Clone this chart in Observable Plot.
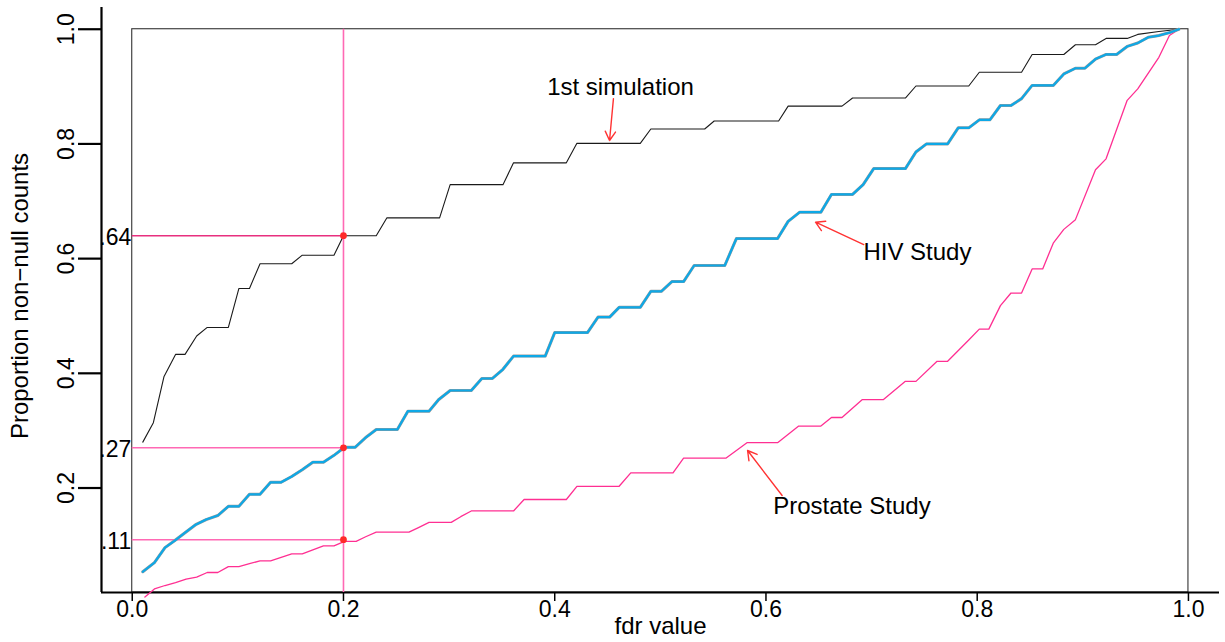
<!DOCTYPE html>
<html><head><meta charset="utf-8">
<script src="https://cdn.jsdelivr.net/npm/d3@7"></script>
<script src="https://cdn.jsdelivr.net/npm/@observablehq/plot@0.6"></script>
<style>body{margin:0;background:#fff} svg{display:block}</style>
</head><body><div id="chart"></div>
<script>
// 1st simulation (black)
const simX = [0.010,0.020,0.030,0.041,0.050,0.061,0.071,0.091,0.101,0.111,0.121,0.151,0.161,0.191,0.200,0.231,0.241,0.291,0.301,0.351,0.361,0.411,0.421,0.481,0.491,0.542,0.551,0.612,0.621,0.672,0.682,0.732,0.742,0.792,0.802,0.842,0.852,0.882,0.893,0.912,0.922,0.942,0.952,0.972,0.991];
const simY = [0.280,0.314,0.394,0.433,0.433,0.465,0.480,0.480,0.548,0.548,0.591,0.591,0.606,0.606,0.640,0.640,0.671,0.671,0.729,0.729,0.767,0.767,0.801,0.801,0.826,0.826,0.840,0.840,0.866,0.866,0.880,0.880,0.901,0.901,0.925,0.925,0.956,0.956,0.973,0.973,0.984,0.984,0.991,0.996,1.000];
// HIV Study (blue)
const hivX = [0.010,0.021,0.031,0.040,0.050,0.060,0.070,0.081,0.091,0.101,0.111,0.121,0.131,0.141,0.151,0.161,0.171,0.181,0.191,0.201,0.211,0.221,0.231,0.251,0.261,0.281,0.290,0.301,0.321,0.331,0.341,0.351,0.361,0.391,0.400,0.431,0.441,0.452,0.461,0.481,0.491,0.501,0.511,0.522,0.532,0.561,0.572,0.611,0.621,0.632,0.652,0.662,0.682,0.692,0.702,0.732,0.742,0.752,0.772,0.782,0.792,0.802,0.812,0.822,0.832,0.842,0.852,0.872,0.882,0.893,0.902,0.912,0.922,0.932,0.942,0.952,0.962,0.972,0.982,0.991];
const hivY = [0.054,0.070,0.096,0.108,0.122,0.136,0.145,0.152,0.168,0.168,0.189,0.189,0.210,0.210,0.220,0.232,0.245,0.245,0.257,0.271,0.271,0.288,0.302,0.302,0.334,0.334,0.354,0.370,0.370,0.391,0.391,0.407,0.430,0.430,0.471,0.471,0.498,0.498,0.515,0.515,0.543,0.543,0.560,0.560,0.588,0.588,0.635,0.635,0.665,0.681,0.681,0.712,0.712,0.729,0.757,0.757,0.786,0.800,0.800,0.828,0.828,0.842,0.842,0.867,0.867,0.879,0.902,0.902,0.922,0.932,0.932,0.948,0.956,0.956,0.970,0.976,0.986,0.989,0.994,1.000];
// Prostate Study (pink)
const proX = [0.012,0.021,0.031,0.041,0.051,0.061,0.071,0.081,0.091,0.101,0.111,0.121,0.131,0.141,0.151,0.161,0.171,0.181,0.191,0.201,0.212,0.221,0.231,0.262,0.271,0.281,0.302,0.311,0.321,0.361,0.371,0.411,0.421,0.461,0.472,0.512,0.522,0.562,0.582,0.611,0.631,0.652,0.662,0.672,0.691,0.711,0.732,0.742,0.762,0.772,0.792,0.802,0.811,0.822,0.832,0.842,0.852,0.862,0.872,0.882,0.893,0.912,0.922,0.942,0.952,0.972,0.982,0.991];
const proY = [0.010,0.024,0.030,0.035,0.041,0.0445,0.0527,0.0527,0.063,0.063,0.068,0.073,0.073,0.079,0.085,0.085,0.092,0.099,0.099,0.107,0.107,0.115,0.123,0.123,0.131,0.140,0.140,0.150,0.160,0.160,0.180,0.180,0.203,0.203,0.2265,0.2265,0.252,0.252,0.279,0.279,0.308,0.308,0.323,0.323,0.354,0.354,0.386,0.386,0.421,0.421,0.458,0.477,0.477,0.518,0.540,0.540,0.582,0.582,0.627,0.651,0.668,0.755,0.774,0.876,0.896,0.951,0.989,1.000];

const xTicks = [0, 0.2, 0.4, 0.6, 0.8, 1.0];
const yTicks = [0.2, 0.4, 0.6, 0.8, 1.0];
const cutoff = 0.2;
const refLevels = [0.64, 0.27, 0.11];
const refLabels = [".64", ".27", ".11"];
const annLabels = ["1st simulation", "HIV Study", "Prostate Study"];
const annTextX = [0.4623, 0.7434, 0.6814];
const annTextY = [0.898, 0.611, 0.1677];
const annFromX = [0.4556, 0.6926, 0.6153];
const annFromY = [0.879, 0.6245, 0.1869];
const annToX = [0.4519, 0.6469, 0.5826];
const annToY = [0.806, 0.6635, 0.2654];

const xDomain = [-0.0291, 1.0294];
const yDomain = [0.0178, 1.0379];

const toPts = (xs, ys) => xs.map((x, i) => ({x, y: ys[i]}));
const sim = toPts(simX, simY), hiv = toPts(hivX, hivY), pro = toPts(proX, proY);
const ann = annLabels.map((label, i) => ({label, tx: annTextX[i], ty: annTextY[i], x1: annFromX[i], y1: annFromY[i], x2: annToX[i], y2: annToY[i]}));

const chart = Plot.plot({
  width: 1225, height: 642,
  marginLeft: 101, marginRight: 6, marginTop: 7, marginBottom: 50,
  style: {fontFamily: "'Liberation Sans', Arial, sans-serif", fontSize: "23px", color: "#000", background: "#fff"},
  x: {domain: xDomain, axis: null},
  y: {domain: yDomain, axis: null},
  marks: [
    // plot box around data range
    Plot.rect([0], {x1: 0, x2: 1, y1: yDomain[0], y2: 1, fill: "none", stroke: "#333", strokeWidth: 1.1}),
    // axis lines
    Plot.ruleX([xDomain[0]], {y1: yDomain[0], y2: yDomain[1], stroke: "#000", strokeWidth: 2.2}),
    Plot.ruleY([yDomain[0]], {x1: xDomain[0], x2: xDomain[1], stroke: "#000", strokeWidth: 2.2}),
    Plot.axisY(yTicks, {anchor: "left", tickSize: 23, strokeWidth: 2.2, tickFormat: () => "", label: null}),
    Plot.axisX(xTicks, {anchor: "bottom", tickSize: 9, tickPadding: -1, strokeWidth: 1.5, tickFormat: d => d.toFixed(1), fontSize: 23, label: null}),
    Plot.text(yTicks, {y: d => d, text: d => d.toFixed(1), frameAnchor: "left", textAnchor: "middle", lineAnchor: "middle", dx: -35, rotate: -90, fontSize: 23}),
    Plot.text(["Proportion non\u2212null counts"], {frameAnchor: "left", textAnchor: "middle", lineAnchor: "middle", dx: -81, dy: -4, rotate: -90, fontSize: 24}),
    Plot.text(["fdr value"], {frameAnchor: "bottom", dy: 41, fontSize: 24}),
    // reference lines
    Plot.ruleX([cutoff], {y1: yDomain[0], y2: 1, stroke: "#ff69b4", strokeWidth: 1.6}),
    Plot.ruleY(refLevels, {x1: 0, x2: cutoff, stroke: (d, i) => i === 0 ? "#e8307f" : "#ff69b4", strokeWidth: 1.5}),
    Plot.text(refLevels, {x: 0, y: d => d, text: (d, i) => refLabels[i], textAnchor: "end", dx: -1, dy: 2, fontSize: 23}),
    // curves
    Plot.line(sim, {x: "x", y: "y", stroke: "#1a1a1a", strokeWidth: 1.1}),
    Plot.line(pro, {x: "x", y: "y", stroke: "#ff2f92", strokeWidth: 1.3, clip: false}),
    Plot.line(hiv, {x: "x", y: "y", stroke: "#9a9a9a", strokeWidth: 3.0}),
    Plot.line(hiv, {x: "x", y: "y", stroke: "#0ea8e6", strokeWidth: 2.2}),
    // highlighted points
    Plot.dot(refLevels, {x: cutoff, y: d => d, r: 3.4, fill: "#ff2a2a", stroke: "none"}),
    // annotations
    Plot.arrow(ann, {x1: "x1", y1: "y1", x2: "x2", y2: "y2", stroke: "#ff3333", strokeWidth: 1.4, headLength: 11, headAngle: 60}),
    Plot.text(ann, {x: "tx", y: "ty", text: "label", fontSize: 24})
  ]
});
document.getElementById("chart").appendChild(chart);
</script>
</body></html>
